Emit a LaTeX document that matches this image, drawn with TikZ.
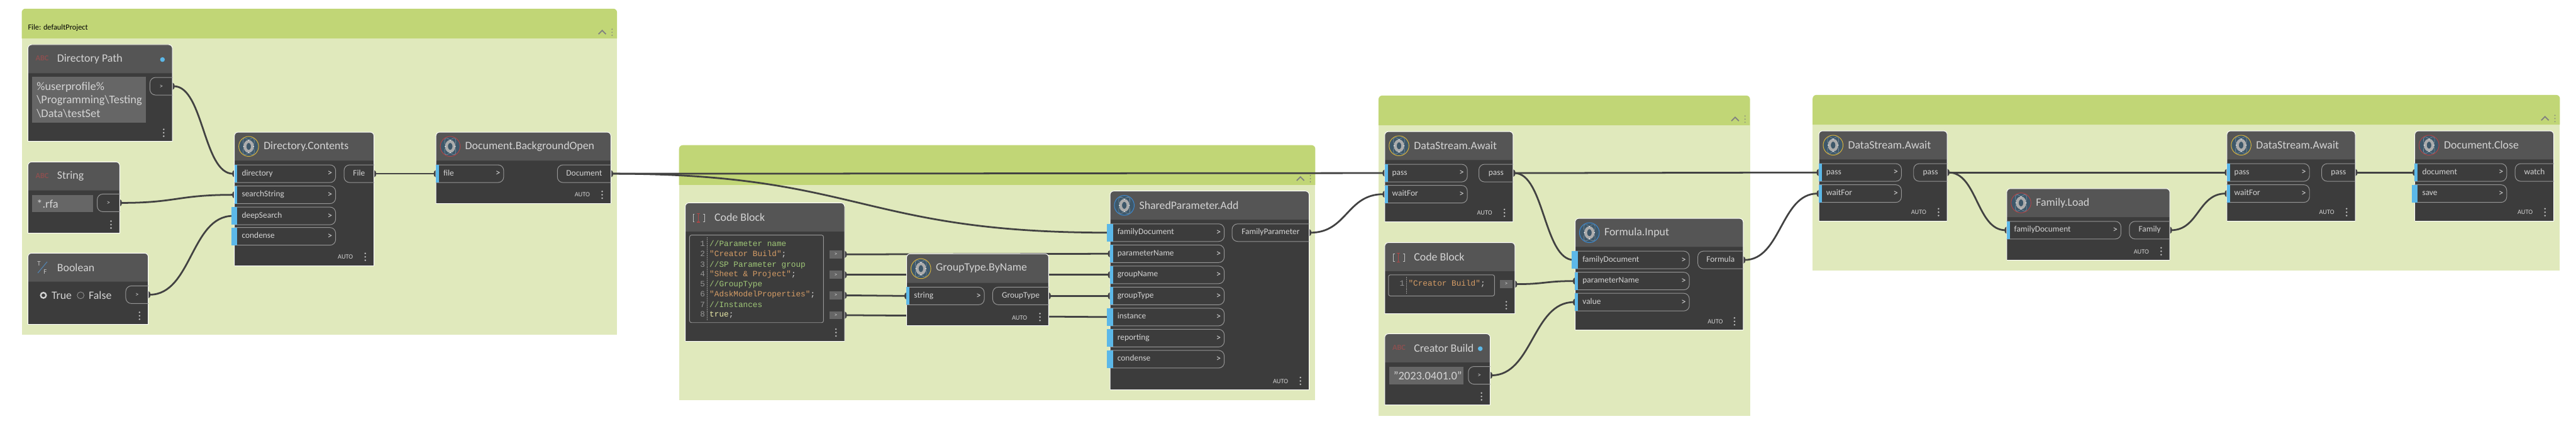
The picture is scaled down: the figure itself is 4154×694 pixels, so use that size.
\documentclass[tikz,border=0pt]{standalone}
\usepackage{fontspec}
\setmainfont{Carlito}
\newfontfamily\codefont{Liberation Mono}
\usetikzlibrary{arrows.meta,positioning,calc}
\definecolor{groupgreen}{RGB}{193,214,118}
\definecolor{grouplight}{RGB}{224,233,188}
\definecolor{cardhead}{RGB}{85,85,85}
\definecolor{cardbody}{RGB}{60,60,60}
\definecolor{portblue}{RGB}{92,184,232}
\definecolor{portline}{RGB}{150,150,150}
\definecolor{titlegray}{RGB}{212,212,212}
\definecolor{wiregray}{RGB}{66,66,66}
\definecolor{boxgray}{RGB}{102,102,102}
\definecolor{commentgreen}{RGB}{160,200,120}
\definecolor{stringorange}{RGB}{214,157,102}
\definecolor{truecol}{RGB}{236,236,170}
\definecolor{iconteal}{RGB}{62,88,106}
\definecolor{icongold}{RGB}{217,179,60}
\definecolor{iconred}{RGB}{176,69,69}
\definecolor{iconblue}{RGB}{62,138,208}
\definecolor{abcred}{RGB}{138,80,80}
\pgfdeclarelayer{groups}
\pgfdeclarelayer{wires}
\pgfsetlayers{groups,wires,main}
\tikzset{
    cardtitle/.style={anchor=west, inner sep=0pt, text=titlegray, font=\fontsize{18.1}{21}\selectfont},
    inport/.style={inner ysep=0pt, inner xsep=12pt, minimum height=28pt, align=left, text=titlegray,
                   text height=9pt, text depth=3pt, font=\fontsize{13.6}{16}\selectfont},
    outport/.style={inner sep=0pt, minimum height=28pt, align=center, text=titlegray,
                    text height=9pt, text depth=3pt, font=\fontsize{13.6}{16}\selectfont},
    portgo/.style={inner sep=0pt, text=titlegray, font=\fontsize{15}{16}\selectfont},
    autotag/.style={inner sep=0pt, text=titlegray, font=\fontsize{10.5}{12}\selectfont},
    valuebox/.style={anchor=north west, fill=boxgray, inner xsep=7pt, inner ysep=0pt, align=left,
                     text=titlegray, font=\fontsize{18.7}{22}\selectfont},
    codeline/.style={anchor=west, inner sep=0pt, text height=9pt, text depth=3pt, font=\codefont\fontsize{12.9}{15}\selectfont},
    linenum/.style={anchor=east, inner sep=0pt, text=portline, text height=9pt, text depth=3pt, font=\codefont\fontsize{12.9}{15}\selectfont},
    codeout/.style={fill=boxgray, inner sep=0pt, minimum width=20pt, minimum height=13pt, text=titlegray,
                    font=\fontsize{9}{10}\selectfont},
    abcicon/.style={inner sep=0pt, text=abcred, font=\fontsize{12.5}{14}\selectfont\bfseries},
    wire/.style={draw=wiregray, line width=2.8pt, {Ellipse[length=7pt,width=11pt]}-{Ellipse[length=7pt,width=11pt]},
                 shorten <=-3.5pt, shorten >=-3.5pt}
}
\newcommand{\dyngroup}[5]{%
    \begin{pgfonlayer}{groups}
    \fill[grouplight] (#1,#3) rectangle (#4,#5);
    \fill[groupgreen, rounded corners=6pt] (#1,#3) -- (#1,#2) -- (#4,#2) -- (#4,#3);
    \draw[gray, line width=1.8pt] ({#4-30},{#3-7}) -- ({#4-24},{#3-13}) -- ({#4-18},{#3-7});
    \foreach \d in {-15,-10,-5} \fill[gray] ({#4-8},{#3+\d}) circle (1pt);
    \end{pgfonlayer}}
\newcommand{\dyncard}[7]{%
    \fill[cardbody, rounded corners=6pt] (#2,#5) -- (#2,#3) -- (#4,#3) -- (#4,#5);
    \fill[cardhead, rounded corners=6pt] (#2,#6) -- (#2,#3) -- (#4,#3) -- (#4,#6);
    \draw[white, line width=1pt, rounded corners=6pt] (#2,#5) -- (#2,#3) -- (#4,#3) -- (#4,#5);
    \draw[white, line width=1pt] (#2,#5) -- (#4,#5);
    \node[cardtitle] (#1) at ({#2+47},{(#3+#6)/2}) {#7};
    \foreach \d in {-5.5,0,5.5} \fill[lightgray] ({#4-14},{#5-14+\d}) circle (1.4pt);}
\newcommand{\dynin}[6][0]{%
    \pgfmathsetmacro\portw{#4-#3-24}
    \node[inport, text width=\portw pt] (#2) at ({(#3+#4)/2},#5) {#6};
    \draw[portline, line width=1pt, rounded corners=9pt] (#2.north west) -- (#2.north east) -- (#2.south east) -- (#2.south west);
    \fill[portblue] ([xshift=-#1 pt]#2.north west) rectangle ([xshift=5pt]#2.south west);
    \node[portgo] (#2-go) at ({#4-9},#5) {>};}
\newcommand{\dynout}[5]{%
    \node[outport, minimum width={(#3-#2)*1pt}] (#1) at ({(#2+#3)/2},#4) {#5};
    \draw[portline, line width=1pt, rounded corners=9pt] (#1.north east) -- (#1.north west) -- (#1.south west) -- (#1.south east);}
\newcommand{\nodeicon}[3]{%
    \draw[fill=iconteal, draw=#3, line width=1pt] (#1,#2) circle (16pt);
    \draw[iconteal!65!white, line width=0.6pt, rotate around={60:(#1,#2)}] (#1,#2) ellipse (15pt and 6pt);
    \draw[iconteal!65!white, line width=0.6pt, rotate around={-60:(#1,#2)}] (#1,#2) ellipse (15pt and 6pt);
    \draw[lightgray!70!gray, line width=4.5pt] (#1,#2) ellipse (6pt and 8pt);
    \foreach \a in {0,90,180,270} \fill[white] ($(#1,#2)+(\a:8pt and 10pt)$) circle (0.9pt);}
\newcommand{\codeicon}[2]{%
    \draw[lightgray, line width=1pt] ({#1-6},{#2-6}) -- ({#1-8},{#2-6}) -- ({#1-8},{#2+6}) -- ({#1-6},{#2+6});
    \draw[lightgray, line width=1pt] ({#1+8},{#2-6}) -- ({#1+10},{#2-6}) -- ({#1+10},{#2+6}) -- ({#1+8},{#2+6});
    \draw[iconred, line width=1.2pt] ({#1-2.5},{#2-7}) -- ({#1+2.5},{#2-7}) (#1,{#2-7}) -- (#1,{#2+7}) ({#1-2.5},{#2+7}) -- ({#1+2.5},{#2+7});}
\newcommand{\smallgo}{\fontsize{10.5}{12}\selectfont >}
\begin{document}
\begin{tikzpicture}[x=1pt,y=-1pt]
\useasboundingbox (0,0) rectangle (4154,694);

\dyngroup{35}{14}{62}{995}{540}
\dyngroup{1095}{234}{298}{2121}{645}
\dyngroup{2223}{154}{202}{2822}{670}
\dyngroup{2923}{153}{201}{4128}{436}
\node[anchor=west, inner sep=0pt, text=black, font=\fontsize{12.5}{15}\selectfont] (filetitle) at (45,45) {File: defaultProject};

\dyncard{dirpath}{45}{72}{278}{228}{118}{Directory Path}
\node[abcicon] (dirpath-icon) at (68,94) {ABC};
\fill[portblue] (262,96) circle (3.8pt);
\node[valuebox, minimum height=74pt, text width=169pt] (dirpath-value) at (52,124) {\%userprofile\%\\\textbackslash Programming\textbackslash Testing\\\textbackslash Data\textbackslash testSet};
\dynout{dirpath-out}{242}{278}{139}{\smallgo}

\dyncard{strnode}{45}{261}{193}{376}{307}{String}
\node[abcicon] (strnode-icon) at (68,283) {ABC};
\node[valuebox, minimum height=28pt, text width=84pt] (strnode-value) at (52,314) {*.rfa};
\dynout{strnode-out}{157}{193}{327}{\smallgo}

\dyncard{boolnode}{45}{408}{239}{523}{454}{Boolean}
\node[inner sep=0pt, text=lightgray, font=\fontsize{11}{12}\selectfont] (boolnode-t) at (63,425) {T};
\node[inner sep=0pt, text=lightgray, font=\fontsize{11}{12}\selectfont] (boolnode-f) at (73,438) {F};
\draw[iconblue!70!gray, line width=1pt] (76,422) -- (61,440);
\draw[titlegray, fill=cardbody, line width=2.4pt] (70,476) circle (4.4pt);
\node[cardtitle] (boolnode-true) at (83,476) {True};
\draw[portline, line width=0.8pt] (130,476) circle (5.5pt);
\node[cardtitle] (boolnode-false) at (143,476) {False};
\dynout{boolnode-out}{203}{239}{475}{\smallgo}

\dyncard{dircont}{378}{213}{603}{428}{259}{Directory.Contents}
\nodeicon{401}{236}{icongold}
\dynin{dircont-in1}{378}{541}{280}{directory}
\dynin{dircont-in2}{378}{541}{314}{searchString}
\dynin[5]{dircont-in3}{378}{541}{348}{deepSearch}
\dynin[5]{dircont-in4}{378}{541}{381}{condense}
\dynout{dircont-out}{555}{603}{280}{File}
\node[autotag] (dircont-auto) at (557,414) {AUTO};

\dyncard{bgopen}{703}{213}{985}{328}{259}{Document.BackgroundOpen}
\nodeicon{726}{236}{iconred}
\dynin{bgopen-in1}{703}{812}{280}{file}
\dynout{bgopen-out}{899}{985}{280}{Document}
\node[autotag] (bgopen-auto) at (939,314) {AUTO};

\dyncard{code1}{1105}{327}{1362}{550}{373}{Code Block}
\codeicon{1126}{351}
\draw[portline, line width=1pt, rounded corners=3pt] (1112,379) rectangle (1328,520);
\draw[portline, densely dotted, line width=0.5pt] (1140,382) -- (1140,517);
\foreach \n/\ly in {1/394,2/410,3/427,4/443,5/459,6/475,7/492,8/508}
    \node[linenum] (code1-num\n) at (1137,\ly) {\n};
\node[codeline, text=commentgreen] (code1-line1) at (1144,394) {//Parameter name};
\node[codeline, text=stringorange] (code1-line2) at (1144,410) {"Creator Build"\textcolor{titlegray}{;}};
\node[codeline, text=commentgreen] (code1-line3) at (1144,427) {//SP Parameter group};
\node[codeline, text=stringorange] (code1-line4) at (1144,443) {"Sheet \& Project"\textcolor{titlegray}{;}};
\node[codeline, text=commentgreen] (code1-line5) at (1144,459) {//GroupType};
\node[codeline, text=stringorange] (code1-line6) at (1144,475) {"AdskModelProperties"\textcolor{titlegray}{;}};
\node[codeline, text=commentgreen] (code1-line7) at (1144,492) {//Instances};
\node[codeline, text=truecol] (code1-line8) at (1144,508) {true\textcolor{titlegray}{;}};
\node[codeout] (code1-out1) at (1348,410) {>};
\node[codeout] (code1-out2) at (1348,443) {>};
\node[codeout] (code1-out3) at (1348,476) {>};
\node[codeout] (code1-out4) at (1348,508) {>};

\dyncard{gtype}{1462}{409}{1691}{525}{456}{GroupType.ByName}
\nodeicon{1485}{433}{icongold}
\dynin{gtype-in1}{1462}{1587}{477}{string}
\dynout{gtype-out}{1601}{1691}{477}{GroupType}
\node[autotag] (gtype-auto) at (1644,512) {AUTO};

\dyncard{spadd}{1790}{308}{2111}{628}{354}{SharedParameter.Add}
\nodeicon{1813}{331}{iconblue}
\dynin[5]{spadd-in1}{1790}{1974}{375}{familyDocument}
\dynin{spadd-in2}{1790}{1974}{409}{parameterName}
\dynin{spadd-in3}{1790}{1974}{443}{groupName}
\dynin{spadd-in4}{1790}{1974}{477}{groupType}
\dynin[5]{spadd-in5}{1790}{1974}{511}{instance}
\dynin[5]{spadd-in6}{1790}{1974}{545}{reporting}
\dynin[5]{spadd-in7}{1790}{1974}{579}{condense}
\dynout{spadd-out}{1987}{2111}{375}{FamilyParameter}
\node[autotag] (spadd-auto) at (2065,615) {AUTO};

\dyncard{await1}{2233}{212}{2440}{357}{258}{DataStream.Await}
\nodeicon{2256}{235}{icongold}
\dynin{await1-in1}{2233}{2366}{279}{pass}
\dynin{await1-in2}{2233}{2366}{313}{waitFor}
\dynout{await1-out}{2385}{2440}{279}{pass}
\node[autotag] (await1-auto) at (2394,343) {AUTO};

\dyncard{code2}{2233}{391}{2443}{506}{437}{Code Block}
\codeicon{2255}{415}
\draw[portline, line width=1pt, rounded corners=3pt] (2239,443) rectangle (2410,477);
\draw[portline, densely dotted, line width=0.5pt] (2268,446) -- (2268,474);
\node[linenum] (code2-num1) at (2265,458) {1};
\node[codeline, text=stringorange] (code2-line1) at (2271,458) {"Creator Build"\textcolor{titlegray}{;}};
\node[codeout] (code2-out1) at (2429,458) {>};

\dyncard{creator}{2233}{538}{2403}{653}{584}{Creator Build}
\node[abcicon] (creator-icon) at (2256,560) {ABC};
\fill[portblue] (2387,562) circle (3.8pt);
\node[valuebox, minimum height=28pt, text width=106pt] (creator-value) at (2240,591) {"2023.0401.0"};
\dynout{creator-out}{2368}{2403}{605}{\smallgo}

\dyncard{formula}{2540}{352}{2811}{532}{398}{Formula.Input}
\nodeicon{2563}{375}{iconblue}
\dynin[5]{formula-in1}{2540}{2724}{419}{familyDocument}
\dynin{formula-in2}{2540}{2724}{453}{parameterName}
\dynin{formula-in3}{2540}{2724}{487}{value}
\dynout{formula-out}{2738}{2811}{419}{Formula}
\node[autotag] (formula-auto) at (2766,518) {AUTO};

\dyncard{await2}{2933}{211}{3140}{356}{257}{DataStream.Await}
\nodeicon{2956}{234}{icongold}
\dynin{await2-in1}{2933}{3066}{278}{pass}
\dynin{await2-in2}{2933}{3066}{312}{waitFor}
\dynout{await2-out}{3086}{3140}{278}{pass}
\node[autotag] (await2-auto) at (3094,342) {AUTO};

\dyncard{famload}{3236}{304}{3499}{419}{350}{Family.Load}
\nodeicon{3259}{327}{iconred}
\dynin{famload-in1}{3236}{3420}{371}{familyDocument}
\dynout{famload-out}{3434}{3499}{371}{Family}
\node[autotag] (famload-auto) at (3453,406) {AUTO};

\dyncard{await3}{3591}{211}{3798}{356}{257}{DataStream.Await}
\nodeicon{3614}{234}{icongold}
\dynin{await3-in1}{3591}{3724}{278}{pass}
\dynin{await3-in2}{3591}{3724}{312}{waitFor}
\dynout{await3-out}{3744}{3798}{278}{pass}
\node[autotag] (await3-auto) at (3752,342) {AUTO};

\dyncard{docclose}{3894}{211}{4118}{356}{257}{Document.Close}
\nodeicon{3917}{234}{iconred}
\dynin{docclose-in1}{3894}{4042}{278}{document}
\dynin[5]{docclose-in2}{3894}{4042}{312}{save}
\dynout{docclose-out}{4056}{4118}{278}{watch}
\node[autotag] (docclose-auto) at (4072,342) {AUTO};

\begin{pgfonlayer}{wires}
\draw[wire] (dirpath-out.east) .. controls +(50,0) and +(-50,0) .. (dircont-in1.west);
\draw[wire] (strnode-out.east) .. controls +(92,0) and +(-92,0) .. (dircont-in2.west);
\draw[wire] (boolnode-out.east) .. controls +(70,0) and +(-70,0) .. (dircont-in3.west);
\draw[wire] (dircont-out.east) -- (bgopen-in1.west);
\draw[wire] (bgopen-out.east) .. controls +(400,0) and +(-400,0) .. (await1-in1.west);
\draw[wire] (bgopen-out.east) .. controls +(402,0) and +(-402,0) .. (spadd-in1.west);
\draw[wire] ([xshift=4pt]code1-out1.east) -- (spadd-in2.west);
\draw[wire] ([xshift=4pt]code1-out2.east) -- (spadd-in3.west);
\draw[wire] ([xshift=4pt]code1-out3.east) -- (gtype-in1.west);
\draw[wire] ([xshift=4pt]code1-out4.east) -- (spadd-in5.west);
\draw[wire] (gtype-out.east) -- (spadd-in4.west);
\draw[wire] (spadd-out.east) .. controls +(61,0) and +(-61,0) .. (await1-in2.west);
\draw[wire] (await1-out.east) -- (await2-in1.west);
\draw[wire] (await1-out.east) .. controls +(50,0) and +(-50,0) .. (formula-in1.west);
\draw[wire] ([xshift=4pt]code2-out1.east) .. controls +(48,0) and +(-48,0) .. (formula-in2.west);
\draw[wire] (creator-out.east) .. controls +(68,0) and +(-68,0) .. (formula-in3.west);
\draw[wire] (formula-out.east) .. controls +(61,0) and +(-61,0) .. (await2-in2.west);
\draw[wire] (await2-out.east) -- (await3-in1.west);
\draw[wire] (await2-out.east) .. controls +(48,0) and +(-48,0) .. (famload-in1.west);
\draw[wire] (famload-out.east) .. controls +(46,0) and +(-46,0) .. (await3-in2.west);
\draw[wire] (await3-out.east) -- (docclose-in1.west);
\end{pgfonlayer}
\end{tikzpicture}
\end{document}
